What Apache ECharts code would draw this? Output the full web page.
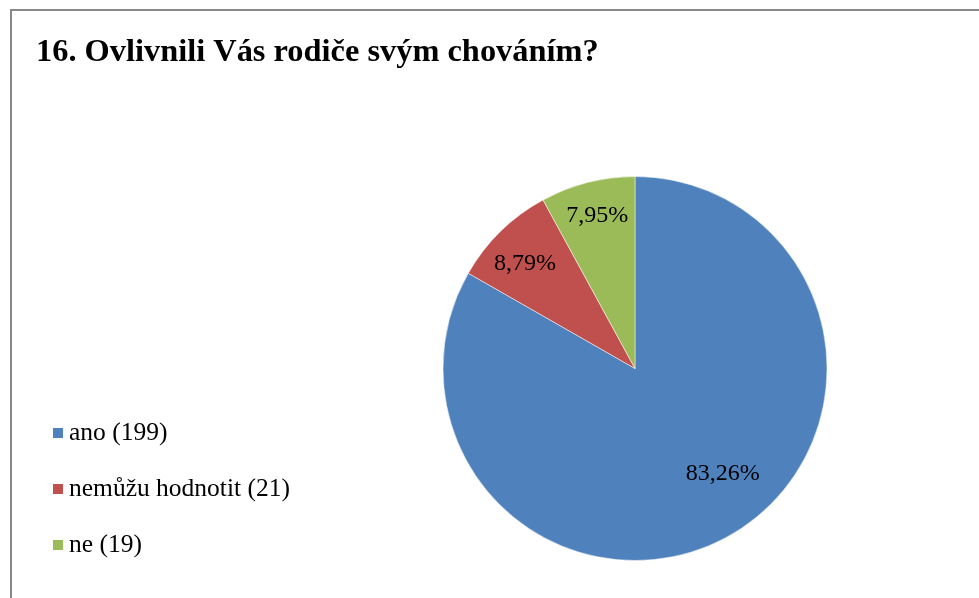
<!DOCTYPE html>
<html>
<head>
<meta charset="utf-8">
<script src="https://cdn.jsdelivr.net/npm/echarts@6/dist/echarts.min.js"></script>
<style>
  html, body { margin: 0; padding: 0; background: #fff; }
  #chart { width: 979px; height: 598px; }
</style>
</head>
<body>
<div id="chart"></div>
<script>
var titleText = '16. Ovlivnili Vás rodiče svým chováním?';
var categories = ['ano', 'nemůžu hodnotit', 'ne'];
var counts = [199, 21, 19];
var colors = ['#4F81BD', '#C0504D', '#9BBB59'];

var font = 'Liberation Serif';

var pieData = categories.map(function (c, i) {
    return { name: c + ' (' + counts[i] + ')', value: counts[i] };
});

// small nudges so the percents sit roughly where the original has them
var labelShift = [[11, -27], [-3, 4], [0, -5]];
var labelData = pieData.map(function (d, i) {
    return { name: d.name, value: d.value, label: { offset: labelShift[i] } };
});

var mChart = echarts.init(document.getElementById('chart'));
mChart.setOption({
    animation: false,
    color: colors,
    textStyle: { fontFamily: font },
    title: {
        text: titleText,
        left: 31,
        top: 32,
        textStyle: { fontFamily: font, fontWeight: 'bold', fontSize: 32.4, color: '#000' }
    },
    legend: {
        orient: 'vertical',
        left: 46,
        top: 415,
        icon: 'rect',
        itemWidth: 12,
        itemHeight: 12,
        itemGap: 30,
        textStyle: { fontFamily: font, fontSize: 25.5, color: '#000', lineHeight: 25 },
        selectedMode: false
    },
    graphic: [{
        type: 'rect',
        shape: { x: 11, y: 10, width: 1000, height: 700 },
        style: { fill: 'none', stroke: '#888', lineWidth: 2 },
        silent: true
    }],
    series: [{
        type: 'pie',
        center: [635, 368.5],
        radius: 192,
        startAngle: 90,
        clockwise: true,
        data: pieData,
        label: { show: false },
        labelLine: { show: false },
        itemStyle: { borderColor: '#fff', borderWidth: 0.5 },
        emphasis: { disabled: true }
    }, {
        type: 'pie',
        center: [635, 368.5],
        radius: [108, 192],
        startAngle: 90,
        clockwise: true,
        silent: true,
        data: labelData,
        itemStyle: { color: 'transparent' },
        label: {
            show: true,
            position: 'inside',
            fontFamily: font,
            fontSize: 24,
            color: '#000',
            formatter: function (p) {
                return p.percent.toFixed(2).replace('.', ',') + '%';
            }
        },
        labelLine: { show: false },
        emphasis: { disabled: true }
    }]
});
</script>
</body>
</html>
